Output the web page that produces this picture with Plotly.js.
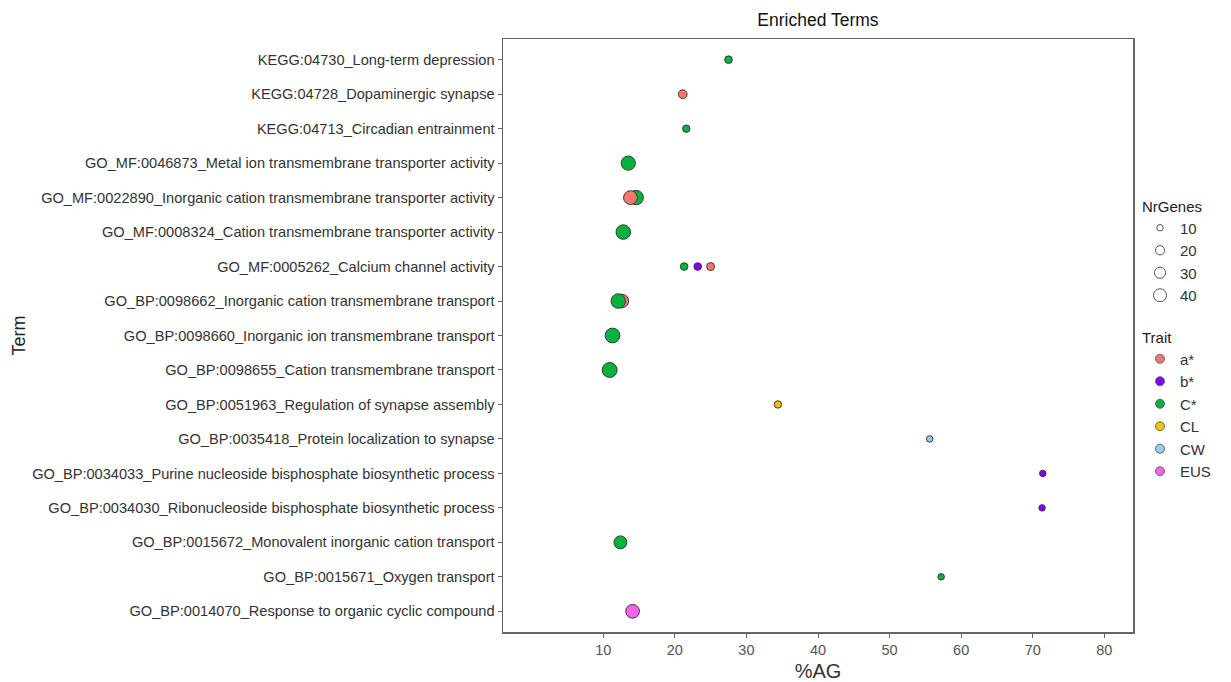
<!DOCTYPE html>
<html>
<head>
<meta charset="utf-8">
<script src="https://cdn.plot.ly/plotly-3.0.1.min.js"></script>
<style>html,body{margin:0;padding:0;background:#fff;}#chart{width:1231px;height:682px;}</style>
</head>
<body>
<div id="chart"></div>
<script>
// Category order, top to bottom
const termOrder = [
  "KEGG:04730_Long-term depression",
  "KEGG:04728_Dopaminergic synapse",
  "KEGG:04713_Circadian entrainment",
  "GO_MF:0046873_Metal ion transmembrane transporter activity",
  "GO_MF:0022890_Inorganic cation transmembrane transporter activity",
  "GO_MF:0008324_Cation transmembrane transporter activity",
  "GO_MF:0005262_Calcium channel activity",
  "GO_BP:0098662_Inorganic cation transmembrane transport",
  "GO_BP:0098660_Inorganic ion transmembrane transport",
  "GO_BP:0098655_Cation transmembrane transport",
  "GO_BP:0051963_Regulation of synapse assembly",
  "GO_BP:0035418_Protein localization to synapse",
  "GO_BP:0034033_Purine nucleoside bisphosphate biosynthetic process",
  "GO_BP:0034030_Ribonucleoside bisphosphate biosynthetic process",
  "GO_BP:0015672_Monovalent inorganic cation transport",
  "GO_BP:0015671_Oxygen transport",
  "GO_BP:0014070_Response to organic cyclic compound"
];

// Points (drawing order matters for overlaps)
const pointTerm = [
  "KEGG:04730_Long-term depression",
  "KEGG:04728_Dopaminergic synapse",
  "KEGG:04713_Circadian entrainment",
  "GO_MF:0046873_Metal ion transmembrane transporter activity",
  "GO_MF:0022890_Inorganic cation transmembrane transporter activity",
  "GO_MF:0022890_Inorganic cation transmembrane transporter activity",
  "GO_MF:0008324_Cation transmembrane transporter activity",
  "GO_MF:0005262_Calcium channel activity",
  "GO_MF:0005262_Calcium channel activity",
  "GO_MF:0005262_Calcium channel activity",
  "GO_BP:0098662_Inorganic cation transmembrane transport",
  "GO_BP:0098662_Inorganic cation transmembrane transport",
  "GO_BP:0098660_Inorganic ion transmembrane transport",
  "GO_BP:0098655_Cation transmembrane transport",
  "GO_BP:0051963_Regulation of synapse assembly",
  "GO_BP:0035418_Protein localization to synapse",
  "GO_BP:0034033_Purine nucleoside bisphosphate biosynthetic process",
  "GO_BP:0034030_Ribonucleoside bisphosphate biosynthetic process",
  "GO_BP:0015672_Monovalent inorganic cation transport",
  "GO_BP:0015671_Oxygen transport",
  "GO_BP:0014070_Response to organic cyclic compound"
];
const pointTrait = ["C*","a*","C*","C*","C*","a*","C*","C*","b*","a*","a*","C*","C*","C*","CL","CW","b*","b*","C*","C*","EUS"];
const pctAG      = [27.5,21.1,21.6,13.5,14.6,13.8,12.8,21.3,23.2,25.0,12.6,12.1,11.3,10.9,34.4,55.6,71.4,71.3,12.4,57.2,14.1];
const nrGenes    = [14,18,13,48,50,45,50,14,14,15,44,50,52,53,13,10,10,10,40,10,45];

const traitNames  = ["a*","b*","C*","CL","CW","EUS"];
const traitColors = ["#F8766D","#8000FF","#00B33C","#F5C300","#8FD0E6","#F563E8"];
const sizeBreaks  = [10,20,30,40];
const xTicks      = [10,20,30,40,50,60,70,80];

const SIZEREF = 0.476;
const diam = n => 2*Math.sqrt(n/(2*SIZEREF));
const colorOf = t => traitColors[traitNames.indexOf(t)];

const traces = [];
traces.push({
  type: "scatter", mode: "markers",
  x: pctAG, y: pointTerm,
  marker: {
    size: nrGenes, sizemode: "area", sizeref: SIZEREF,
    color: pointTrait.map(colorOf),
    line: {color: "#3a3a3a", width: 1}, opacity: 1
  },
  text: pointTrait,
  showlegend: false,
  hovertemplate: "%{y}<br>%AG=%{x}<br>Trait=%{text}<br>NrGenes=%{marker.size}<extra></extra>"
});
sizeBreaks.forEach(n => traces.push({
  type: "scatter", mode: "markers", x: [null], y: [null],
  name: String(n), legend: "legend",
  marker: {size: diam(n), color: "rgba(255,255,255,0)", line: {color: "#555", width: 1}},
  hoverinfo: "skip"
}));
traitNames.forEach((t, i) => traces.push({
  type: "scatter", mode: "markers", x: [null], y: [null],
  name: t, legend: "legend2",
  marker: {size: 9, color: traitColors[i], line: {color: "#666", width: 1}},
  hoverinfo: "skip"
}));

const L = 503, R = 1133, T = 39, B = 632;
const pw = R - L, ph = B - T;
const layout = {
  width: 1231, height: 682,
  margin: {l: L, r: 1231 - R, t: T, b: 682 - B, pad: 0},
  paper_bgcolor: "#fff", plot_bgcolor: "#fff",
  font: {family: "Liberation Sans, Arial, sans-serif", color: "#333", size: 13},
  title: {text: "Enriched Terms", font: {size: 17.5, color: "#111"}, x: (L + pw/2)/1231, xanchor: "center", y: 1 - 20/682, yanchor: "middle"},
  xaxis: {
    range: [-4, 84], tickvals: xTicks, ticktext: xTicks.map(String),
    showgrid: false, zeroline: false,
    showline: true, mirror: true, linecolor: "#666", linewidth: 1.5,
    ticks: "outside", ticklen: 4, tickcolor: "#666", tickwidth: 1,
    tickfont: {size: 14.5, color: "#555"},
    title: {text: "%AG", font: {size: 20, color: "#333"}, standoff: 7}
  },
  yaxis: {
    type: "category", categoryorder: "array", categoryarray: termOrder,
    range: [termOrder.length - 1 + 0.6, -0.6],
    showgrid: false, zeroline: false,
    showline: true, mirror: true, linecolor: "#666", linewidth: 1.5,
    ticks: "outside", ticklen: 4, tickcolor: "#666", tickwidth: 1,
    tickfont: {size: 14.6, color: "#333"}
  },
  annotations: [{
    text: "Term", xref: "paper", yref: "paper",
    x: (18 - L)/pw, y: 0.5, xanchor: "center", yanchor: "middle",
    textangle: -90, showarrow: false, font: {size: 18, color: "#222"}
  }],
  legend: {
    title: {text: "NrGenes", font: {size: 15, color: "#222"}},
    x: (1140 - L)/pw, xanchor: "left", y: (B - 192)/ph, yanchor: "top",
    font: {size: 15, color: "#333"}, itemsizing: "trace", bgcolor: "rgba(0,0,0,0)",
    tracegroupgap: 0, itemwidth: 30
  },
  legend2: {
    title: {text: "Trait", font: {size: 15, color: "#222"}},
    x: (1140 - L)/pw, xanchor: "left", y: (B - 323)/ph, yanchor: "top",
    font: {size: 15, color: "#333"}, itemsizing: "trace", bgcolor: "rgba(0,0,0,0)",
    tracegroupgap: 0, itemwidth: 30
  }
};

Plotly.newPlot("chart", traces, layout, {displayModeBar: false, staticPlot: true});
</script>
</body>
</html>
